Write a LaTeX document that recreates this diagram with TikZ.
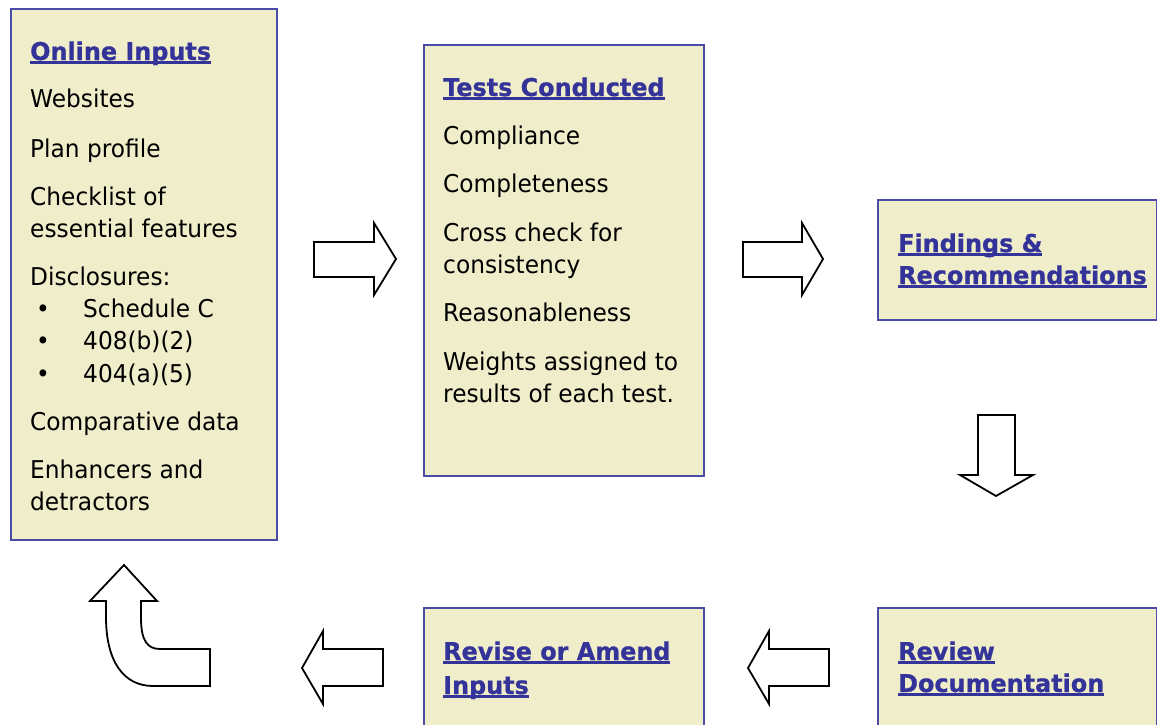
\documentclass[tikz,border=0pt]{standalone}
\usepackage{fontspec}
\setmainfont{DejaVu Sans}[FakeStretch=0.95, BoldFeatures={FakeStretch=0.975, FakeBold=0.8}]
\definecolor{boxfill}{HTML}{EFEDCA}
\definecolor{boxline}{HTML}{4B4BA8}
\definecolor{titleblue}{HTML}{333399}
\newcommand\ulin[1]{\setbox0\hbox{#1}\rlap{\rule[-4pt]{\wd0}{2.6pt}}\box0}
\tikzset{
  box/.style={draw=boxline, fill=boxfill, line width=2pt, anchor=north west, inner sep=0pt},
  txt/.style={anchor=base west, inner sep=0pt, font=\fontsize{24.5}{29}\selectfont},
  ttl/.style={anchor=base west, inner sep=0pt, font=\fontsize{24.5}{29}\selectfont\bfseries, text=titleblue},
  blk/.style={draw=black, fill=white, line width=1.8pt, line join=miter}
}
\begin{document}
\begin{tikzpicture}[x=1pt,y=-1pt]
\clip (0,0) rectangle (1157,725);
\fill[white] (0,0) rectangle (1157,725);
% boxes
\node[box, minimum width=266pt, minimum height=531pt] (inputs) at (10,8) {};
\node[box, minimum width=280pt, minimum height=431pt] (tests) at (423,44) {};
\node[box, minimum width=279pt, minimum height=120pt] (findings) at (877,199) {};
\node[box, minimum width=280pt, minimum height=140pt] (revise) at (423,607) {};
\node[box, minimum width=279pt, minimum height=140pt] (review) at (877,607) {};
% Online inputs text
\node[ttl] (i0) at (30,60) {\ulin{Online Inputs}};
\node[txt] (i1) at (30,107) {Websites};
\node[txt] (i2) at (30,157) {Plan profile};
\node[txt] (i3) at (30,205) {Checklist of};
\node[txt] (i3b) at (30,237) {essential features};
\node[txt] (i4) at (30,285) {Disclosures:};
\node[txt] (b1) at (36,317) {•};
\node[txt] (i5) at (83,317) {Schedule C};
\node[txt] (b2) at (36,349) {•};
\node[txt] (i6) at (83,349) {408(b)(2)};
\node[txt] (b3) at (36,382) {•};
\node[txt] (i7) at (83,382) {404(a)(5)};
\node[txt] (i8) at (30,430) {Comparative data};
\node[txt] (i9) at (30,478) {Enhancers and};
\node[txt] (i9b) at (30,510) {detractors};
% Tests text
\node[ttl] (t0) at (443,96) {\ulin{Tests Conducted}};
\node[txt] (t1) at (443,144) {Compliance};
\node[txt] (t2) at (443,192) {Completeness};
\node[txt] (t3) at (443,241) {Cross check for};
\node[txt] (t3b) at (443,273) {consistency};
\node[txt] (t4) at (443,321) {Reasonableness};
\node[txt] (t5) at (443,370) {Weights assigned to};
\node[txt] (t5b) at (443,402) {results of each test.};
% Findings
\node[ttl] (f0) at (898,252) {\ulin{Findings \&}};
\node[ttl] (f1) at (898,284) {\ulin{Recommendations}};
% Revise
\node[ttl] (r0) at (443,660) {\ulin{Revise or Amend}};
\node[ttl] (r1) at (443,694) {\ulin{Inputs}};
% Review
\node[ttl] (v0) at (898,660) {\ulin{Review}};
\node[ttl] (v1) at (898,692) {\ulin{Documentation}};
% block arrows
\draw[blk] (314,242) -- (374,242) -- (374,223) -- (396,259) -- (374,295) -- (374,277) -- (314,277) -- cycle;
\draw[blk] (743,242) -- (802,242) -- (802,223) -- (823,259) -- (802,295) -- (802,277) -- (743,277) -- cycle;
\draw[blk] (978,415) -- (1015,415) -- (1015,475) -- (1033,475) -- (996,496) -- (960,475) -- (978,475) -- cycle;
\draw[blk] (748,668) -- (769,631) -- (769,649) -- (829,649) -- (829,686) -- (769,686) -- (769,704) -- cycle;
\draw[blk] (302,668) -- (323,631) -- (323,649) -- (383,649) -- (383,686) -- (323,686) -- (323,704) -- cycle;
\draw[blk] (124,565) -- (157,601) -- (141,601) -- (141,618) .. controls (141,640) and (147,649) .. (160,649)
  -- (210,649) -- (210,686) -- (153,686) .. controls (124,686) and (106,662) .. (106,617) -- (106,601) -- (90,601) -- cycle;
\end{tikzpicture}
\end{document}
